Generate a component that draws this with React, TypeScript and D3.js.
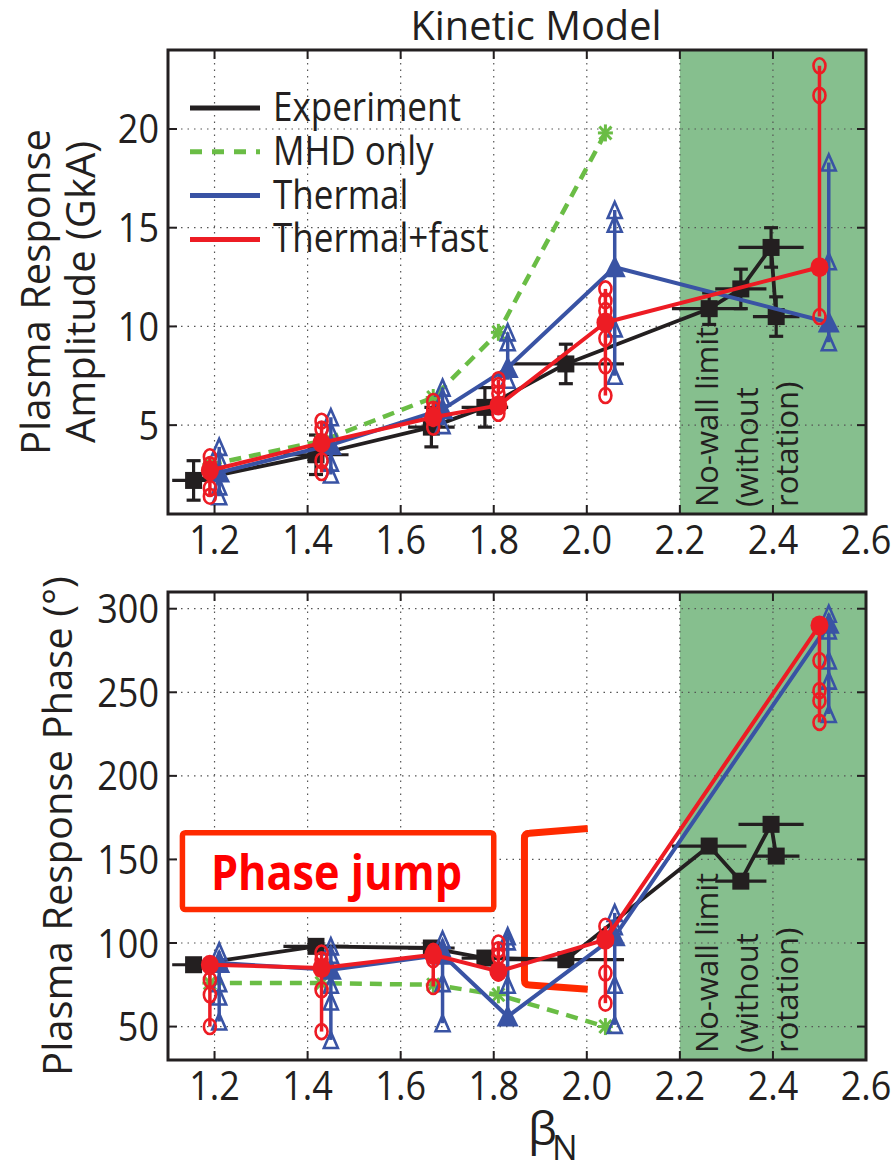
import React from 'react';
import * as d3 from 'd3';

// ---- data ----
const xTicks = [1.2, 1.4, 1.6, 1.8, 2.0, 2.2, 2.4, 2.6];
const ampTicks = [5, 10, 15, 20];
const phaseTicks = [50, 100, 150, 200, 250, 300];
const legendLabels = ['Experiment', 'MHD only', 'Thermal', 'Thermal+fast'];

// experiment (black squares with error bars)
const expBeta = [1.155, 1.418, 1.666, 1.781, 1.955, 2.263, 2.331, 2.396, 2.407];
const expBetaErr = [0.046, 0.07, 0.05, 0.05, 0.125, 0.08, 0.055, 0.07, 0.05];
const expAmp = [2.2, 3.5, 4.9, 5.9, 8.1, 10.9, 11.9, 14.0, 10.5];
const expAmpErr = [1.0, 1.0, 1.0, 1.0, 1.0, 0.8, 1.0, 1.0, 1.0];
const expPhase = [87, 98, 97, 91, 90, 158, 137, 171, 152];

// MHD only (green dashed, asterisks)
const mhdBeta = [1.19, 1.43, 1.67, 1.81, 2.04];
const mhdAmp = [3.0, 4.2, 6.4, 9.7, 19.8];
const mhdPhase = [76, 76, 75, 69, 50];

// Thermal (blue triangles)
const thBeta = [1.21, 1.45, 1.69, 1.83, 2.06, 2.52];
const thAmp = [2.6, 4.0, 5.8, 7.9, 13.0, 10.2];
const thAmpSpread = [[3.9, 3.3, 1.9, 1.4], [5.4, 4.7, 3.1, 2.5], [6.9, 6.4, 5.0], [9.7, 9.2, 7.3], [15.9, 15.2, 9.9, 7.5], [18.3, 13.3, 9.2]];
const thPhase = [88, 84, 93, 56, 104, 291];
const thPhaseSpread = [[95, 90, 76, 68, 53], [98, 93, 75, 65, 42], [102, 97, 76, 52], [104, 101, 75, 56], [118, 110, 75, 51], [297, 287, 269, 257, 237]];

// Thermal+fast (red circles)
const tfBeta = [1.19, 1.43, 1.67, 1.81, 2.04, 2.5];
const tfAmp = [2.7, 4.1, 5.4, 6.0, 10.2, 13.0];
const tfAmpSpread = [[3.4, 3.0, 1.8, 1.4], [5.2, 4.8, 3.2, 2.6], [6.2, 5.8, 4.9], [7.3, 7.0, 6.6, 5.6], [11.9, 11.3, 10.8, 9.4, 8.0, 6.5], [23.2, 21.7, 10.5]];
const tfPhase = [87, 85, 93, 83, 102, 290];
const tfPhaseSpread = [[86, 78, 69, 50], [94, 90, 72, 47], [95, 90, 74], [100, 96, 92, 82], [110, 82, 64], [269, 251, 245, 232]];

// no-wall limit region and annotations
const noWall = [2.2, 2.6];
const noWallLines = ['No-wall limit', '(without', 'rotation)'];
const jumpBox = { x0: 1.131, x1: 1.8, y0: 120, y1: 166 };
const jumpText = { x: 1.462, y: 132 };
const bracket = { x0: 1.866, x1: 2.002, yTopR: 168.5, yTopL: 165.6, yBotL: 74.9, yBotR: 72.3 };

const C = {
  ink: '#231f20',
  green: '#6abd45',
  blue: '#3953a4',
  red: '#ed1c24',
  shade: '#86bf8e',
  ann: '#ff2a00',
  grid: '#555',
};

const FONT = "'Open Sans', sans-serif";
const LEFT = 168;
const RIGHT = 866;

const tri = (cx: number, cy: number, w: number, h: number) =>
  `M${cx},${cy - h / 2}L${cx + w / 2},${cy + h / 2}L${cx - w / 2},${cy + h / 2}Z`;

const HText = ({ x, y, sx = 0.9, size = 40, anchor = 'middle', fill = C.ink, weight = 400, children }: any) => (
  <text
    transform={`translate(${x},${y}) scale(${sx},1)`}
    textAnchor={anchor}
    fontSize={size}
    fontWeight={weight}
    fill={fill}
  >
    {children}
  </text>
);

const Experiment = ({ x, y, vals, errs }: any) => {
  const pts = expBeta.map((b, i) => [x(b), y(vals[i])] as [number, number]);
  return (
    <g>
      {expBeta.map((b, i) => (
        <g key={i} stroke={C.ink} strokeWidth={3.2}>
          <line x1={x(b - expBetaErr[i])} x2={x(b + expBetaErr[i])} y1={y(vals[i])} y2={y(vals[i])} />
          {errs && (
            <>
              <line x1={x(b)} x2={x(b)} y1={y(vals[i] - errs[i])} y2={y(vals[i] + errs[i])} />
              <line x1={x(b) - 7} x2={x(b) + 7} y1={y(vals[i] - errs[i])} y2={y(vals[i] - errs[i])} />
              <line x1={x(b) - 7} x2={x(b) + 7} y1={y(vals[i] + errs[i])} y2={y(vals[i] + errs[i])} />
            </>
          )}
        </g>
      ))}
      <path d={d3.line()(pts) || ''} fill="none" stroke={C.ink} strokeWidth={3.8} strokeLinejoin="round" />
      {pts.map(([px, py], i) => (
        <rect key={i} x={px - 8.5} y={py - 8.5} width={17} height={17} fill={C.ink} />
      ))}
    </g>
  );
};

const Mhd = ({ x, y, vals }: any) => {
  const pts = mhdBeta.map((b, i) => [x(b), y(vals[i])] as [number, number]);
  return (
    <g>
      <path d={d3.line()(pts) || ''} fill="none" stroke={C.green} strokeWidth={4.5} strokeDasharray="12 8" />
      {pts.map(([px, py], i) => (
        <g key={i} stroke={C.green} strokeWidth={3}>
          <line x1={px - 7.5} x2={px + 7.5} y1={py} y2={py} />
          <line x1={px} x2={px} y1={py - 8.5} y2={py + 8.5} />
          <line x1={px - 6} x2={px + 6} y1={py - 6.5} y2={py + 6.5} />
          <line x1={px - 6} x2={px + 6} y1={py + 6.5} y2={py - 6.5} />
        </g>
      ))}
    </g>
  );
};

const Model = ({ x, y, beta, vals, spread, color, kind }: any) => {
  const pts = beta.map((b: number, i: number) => [x(b), y(vals[i])] as [number, number]);
  return (
    <g>
      {beta.map((b: number, i: number) => {
        const all = [...spread[i], vals[i]];
        return (
          <line
            key={'r' + i}
            x1={x(b)}
            x2={x(b)}
            y1={y(d3.min(all) as number)}
            y2={y(d3.max(all) as number)}
            stroke={color}
            strokeWidth={3.5}
          />
        );
      })}
      {beta.map((b: number, i: number) =>
        spread[i].map((v: number, j: number) =>
          kind === 'tri' ? (
            <path key={i + '-' + j} d={tri(x(b), y(v), 14, 16)} fill="none" stroke={color} strokeWidth={2.6} />
          ) : (
            <ellipse key={i + '-' + j} cx={x(b)} cy={y(v)} rx={6} ry={7.5} fill="none" stroke={color} strokeWidth={2.6} />
          )
        )
      )}
      <path d={d3.line()(pts) || ''} fill="none" stroke={color} strokeWidth={4} strokeLinejoin="round" />
      {pts.map(([px, py]: [number, number], i: number) =>
        kind === 'tri' ? (
          <path key={'m' + i} d={tri(px, py - 1, 22, 22)} fill={color} />
        ) : (
          <ellipse key={'m' + i} cx={px} cy={py} rx={9} ry={10} fill={color} />
        )
      )}
    </g>
  );
};

const Frame = ({ x, y, top, bottom, yTicks }: any) => (
  <g>
    <rect x={x(noWall[0])} y={top} width={x(noWall[1]) - x(noWall[0])} height={bottom - top} fill={C.shade} />
    {xTicks.slice(0, -1).map((t) => (
      <line key={'gx' + t} x1={x(t)} x2={x(t)} y1={top} y2={bottom} stroke={C.grid} strokeWidth={1.2} strokeDasharray="1.5 5" />
    ))}
    {yTicks.map((t: number) => (
      <line key={'gy' + t} x1={LEFT} x2={RIGHT} y1={y(t)} y2={y(t)} stroke={C.grid} strokeWidth={1.2} strokeDasharray="1.5 5" />
    ))}
    {noWallLines.map((s, i) => (
      <text key={s} transform={`translate(${718 + i * 40},${bottom - 7}) rotate(-90)`} fontSize={31} fill={C.ink}>
        {s}
      </text>
    ))}
  </g>
);

const Axes = ({ x, y, top, bottom, yTicks }: any) => (
  <g>
    {xTicks.map((t) => (
      <g key={'tx' + t} stroke={C.ink} strokeWidth={2}>
        <line x1={x(t)} x2={x(t)} y1={bottom} y2={bottom - 9} />
        <line x1={x(t)} x2={x(t)} y1={top} y2={top + 9} />
      </g>
    ))}
    {yTicks.map((t: number) => (
      <g key={'ty' + t} stroke={C.ink} strokeWidth={2}>
        <line x1={LEFT} x2={LEFT + 9} y1={y(t)} y2={y(t)} />
        <line x1={RIGHT} x2={RIGHT - 9} y1={y(t)} y2={y(t)} />
      </g>
    ))}
    <rect x={LEFT} y={top} width={RIGHT - LEFT} height={bottom - top} fill="none" stroke={C.ink} strokeWidth={3} />
    {xTicks.map((t) => (
      <HText key={'lx' + t} x={x(t)} y={bottom + 40}>
        {t.toFixed(1)}
      </HText>
    ))}
    {yTicks.map((t: number) => (
      <HText key={'ly' + t} x={159} y={y(t) + 14.5} anchor="end">
        {t}
      </HText>
    ))}
  </g>
);

export default function App() {
  const x = d3.scaleLinear().domain([1.1, 2.6]).range([LEFT, RIGHT]);
  const yA = d3.scaleLinear().domain([0.5, 24]).range([514, 50]);
  const yP = d3.scaleLinear().domain([30, 310]).range([1060, 592]);

  const legendColors = [C.ink, C.green, C.blue, C.red];
  const r = 5;
  const b = bracket;
  const bx0 = x(b.x0);
  const bx1 = x(b.x1);

  return (
    <svg
      width={896}
      height={1165}
      style={{ position: 'absolute', left: 0, top: 0, background: '#fff' }}
      fontFamily={FONT}
    >
      <HText x={536} y={40} size={41} sx={0.97}>
        Kinetic Model
      </HText>

      {/* top panel: amplitude */}
      <Frame x={x} y={yA} top={50} bottom={514} yTicks={ampTicks} />
      <Experiment x={x} y={yA} vals={expAmp} errs={expAmpErr} />
      <Mhd x={x} y={yA} vals={mhdAmp} />
      <Model x={x} y={yA} beta={thBeta} vals={thAmp} spread={thAmpSpread} color={C.blue} kind="tri" />
      <Model x={x} y={yA} beta={tfBeta} vals={tfAmp} spread={tfAmpSpread} color={C.red} kind="circ" />
      <Axes x={x} y={yA} top={50} bottom={514} yTicks={ampTicks} />

      {legendLabels.map((s, i) => (
        <g key={s}>
          <line
            x1={190}
            x2={260}
            y1={108 + i * 43.8}
            y2={108 + i * 43.8}
            stroke={legendColors[i]}
            strokeWidth={5}
            strokeDasharray={i === 1 ? '12 10' : undefined}
          />
          <HText x={273} y={121 + i * 43.8} anchor="start" sx={0.875}>
            {s}
          </HText>
        </g>
      ))}

      <text transform="translate(50,292) rotate(-90)" textAnchor="middle" fontSize={40} fill={C.ink}>
        Plasma Response
      </text>
      <text transform="translate(95,292) rotate(-90)" textAnchor="middle" fontSize={40} fill={C.ink}>
        Amplitude (GkA)
      </text>

      {/* bottom panel: phase */}
      <Frame x={x} y={yP} top={592} bottom={1060} yTicks={phaseTicks} />
      <rect
        x={x(jumpBox.x0)}
        y={yP(jumpBox.y1)}
        width={x(jumpBox.x1) - x(jumpBox.x0)}
        height={yP(jumpBox.y0) - yP(jumpBox.y1)}
        rx={3}
        fill="#fff"
        stroke={C.ann}
        strokeWidth={5.5}
      />
      <HText x={x(jumpText.x)} y={yP(jumpText.y)} size={48} sx={0.9} weight={700} fill="#ff0000">
        Phase jump
      </HText>
      <path
        d={`M${bx1},${yP(b.yTopR)}L${bx0 + r},${yP(b.yTopL)}Q${bx0},${yP(b.yTopL)} ${bx0},${yP(b.yTopL) + r}L${bx0},${yP(b.yBotL) - r}Q${bx0},${yP(b.yBotL)} ${bx0 + r},${yP(b.yBotL)}L${bx1},${yP(b.yBotR)}`}
        fill="none"
        stroke={C.ann}
        strokeWidth={7}
      />
      <Experiment x={x} y={yP} vals={expPhase} />
      <Mhd x={x} y={yP} vals={mhdPhase} />
      <Model x={x} y={yP} beta={thBeta} vals={thPhase} spread={thPhaseSpread} color={C.blue} kind="tri" />
      <Model x={x} y={yP} beta={tfBeta} vals={tfPhase} spread={tfPhaseSpread} color={C.red} kind="circ" />
      <Axes x={x} y={yP} top={592} bottom={1060} yTicks={phaseTicks} />

      <text transform="translate(72,826) rotate(-90)" textAnchor="middle" fontSize={40} fill={C.ink}>
        Plasma Response Phase (°)
      </text>
      <text x={528} y={1145} fontSize={46} fill={C.ink}>
        β
      </text>
      <text x={552} y={1160} fontSize={34} fill={C.ink}>
        N
      </text>
    </svg>
  );
}
